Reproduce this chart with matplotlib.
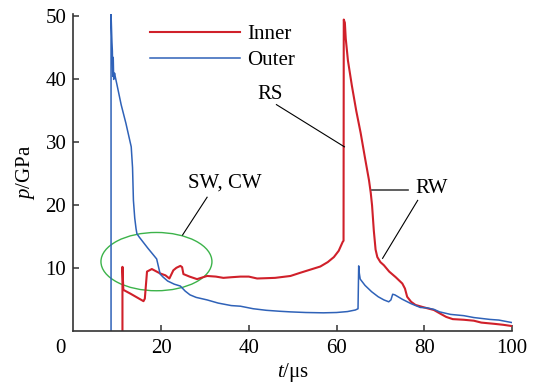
import matplotlib
matplotlib.use("Agg")
import matplotlib.pyplot as plt
from matplotlib.patches import Ellipse

plt.rcParams['font.family'] = ['Liberation Serif', 'DejaVu Serif']
plt.rcParams['mathtext.fontset'] = 'custom'
plt.rcParams['mathtext.rm'] = 'Liberation Serif'
plt.rcParams['mathtext.it'] = 'Liberation Serif:italic'
plt.rcParams['font.size'] = 15

# Outer (blue) pressure history: t in us, p in GPa
outer_t = [8.6, 8.6, 8.8, 8.9, 9.0, 9.1, 9.2, 9.4, 9.6, 10.0, 10.9, 12.0, 13.2,
           13.5, 13.7, 14.0, 14.3, 14.5, 15.0, 16.0, 17.0, 18.3, 19.0, 19.4, 19.8,
           20.5, 21.5, 23.0, 24.4, 25.5, 26.6, 28.0, 30.5, 33.0, 36.0, 38.1, 41.0,
           44.0, 47.0, 49.5, 53.0, 57.0, 60.0, 62.5, 64.3, 64.9, 65.05, 65.2, 65.4,
           66.5, 68.0, 69.5, 70.8, 71.9, 72.4, 72.8, 73.3, 75.0, 77.0, 79.1, 80.5,
           82.2, 83.5, 86.0, 89.0, 91.3, 95.0, 97.0, 100.0]
outer_p = [0.0, 50.4, 46.0, 44.5, 40.5, 43.5, 40.0, 41.0, 40.3, 39.0, 36.0, 33.0, 29.3,
           26.0, 20.8, 18.0, 16.3, 15.5, 15.0, 14.1, 13.2, 12.1, 11.5, 10.3, 9.1,
           8.6, 8.0, 7.5, 7.2, 6.4, 5.8, 5.4, 5.0, 4.5, 4.1, 4.0, 3.6,
           3.35, 3.2, 3.1, 3.0, 2.95, 3.0, 3.15, 3.4, 3.6, 10.4, 9.2, 8.3,
           7.3, 6.3, 5.5, 5.0, 4.7, 5.0, 5.9, 5.8, 5.1, 4.4, 3.8, 3.75,
           3.5, 3.1, 2.7, 2.5, 2.2, 1.9, 1.8, 1.4]

# Inner (red) pressure history
inner_t = [11.2, 11.2, 11.4, 13.0, 14.5, 16.0, 16.3, 16.8, 17.9, 19.8, 21.0, 21.9,
           22.8, 23.5, 24.4, 24.8, 25.1, 26.5, 28.2, 30.5, 32.5, 34.2, 36.0, 38.1,
           40.0, 41.9, 44.0, 46.0, 49.5, 51.7, 54.0, 56.3, 58.0, 59.4, 60.5, 61.4,
           61.6, 61.65, 61.9, 62.1, 62.6, 63.5, 64.5, 65.5, 66.5, 67.4, 67.8, 68.1,
           68.5, 68.9, 69.3, 70.0, 70.8, 72.0, 73.5, 75.0, 75.6, 76.1, 77.0, 78.0,
           80.0, 82.2, 83.7, 85.0, 86.5, 89.0, 91.3, 93.0, 96.0, 98.0, 100.0]
inner_p = [0.0, 10.25, 6.6, 6.0, 5.4, 4.8, 5.2, 9.5, 9.9, 9.2, 8.9, 8.4,
           9.7, 10.1, 10.4, 10.2, 9.1, 8.7, 8.3, 8.8, 8.7, 8.5, 8.6, 8.7,
           8.7, 8.4, 8.45, 8.5, 8.8, 9.3, 9.8, 10.3, 11.0, 11.8, 12.8, 14.2,
           14.4, 49.5, 49.0, 46.5, 43.0, 39.0, 35.0, 31.5, 27.5, 24.0, 22.0, 20.0,
           16.0, 13.0, 11.8, 11.0, 10.5, 9.5, 8.6, 7.6, 6.8, 5.5, 4.7, 4.2,
           3.8, 3.4, 2.8, 2.3, 1.95, 1.85, 1.7, 1.4, 1.2, 1.05, 0.85]

xticks = [20, 40, 60, 80, 100]
yticks = [10, 20, 30, 40, 50]

red = '#d0202a'
blue = '#2f62b8'
green = '#3cb34a'

fig = plt.figure(figsize=(5.34, 3.83), dpi=100)
ax = fig.add_axes([0.1373, 0.1347, 0.8215, 0.829])

ax.plot(inner_t, inner_p, color=red, lw=1.5, label='Inner')
ax.plot(outer_t, outer_p, color=blue, lw=1.1, label='Outer')

ax.set_xlim(0, 100)
ax.set_ylim(0, 50.4)
ax.set_xticks(xticks)
ax.set_yticks(yticks)
ax.tick_params(direction='in', length=4.5, width=1.1, color='#333333')
ax.tick_params(axis='y', pad=5)
ax.tick_params(axis='x', pad=5.5)
for s in ['top', 'right']:
    ax.spines[s].set_visible(False)
for s in ['left', 'bottom']:
    ax.spines[s].set_color('#333333')
    ax.spines[s].set_linewidth(1.2)

# shared origin label
ax.annotate('0', xy=(0, 0), xycoords=('data', 'axes fraction'), xytext=(-9.6, -5.5),
            textcoords='offset points', ha='center', va='top')

ax.set_xlabel(r'$t$/μs', labelpad=2)
ax.set_ylabel(r'$p$/GPa', labelpad=6)

leg = ax.legend(loc='upper left', bbox_to_anchor=(0.281, 0.935), bbox_transform=fig.transFigure,
                frameon=False, borderpad=0, borderaxespad=0, handlelength=4.3,
                handletextpad=0.35, labelspacing=0.28)

# annotations
ax.add_patch(Ellipse((18.95, 11.08), 25.3, 9.25, fill=False, edgecolor=green, lw=1.0))
ax.plot([30.5, 24.9], [21.3, 15.3], color='black', lw=0.8)
ax.text(34.6, 23.6, 'SW, CW', ha='center', va='center')

ax.plot([46.3, 61.8], [36.0, 29.3], color='black', lw=0.8)
ax.text(44.8, 37.6, 'RS', ha='center', va='center')

ax.plot([68.0, 76.2], [22.4, 22.4], color='#444444', lw=1.2)
ax.plot([78.5, 70.5], [20.8, 11.6], color='black', lw=0.8)
ax.text(81.6, 22.7, 'RW', ha='center', va='center')

fig.savefig('out.png', dpi=100)
